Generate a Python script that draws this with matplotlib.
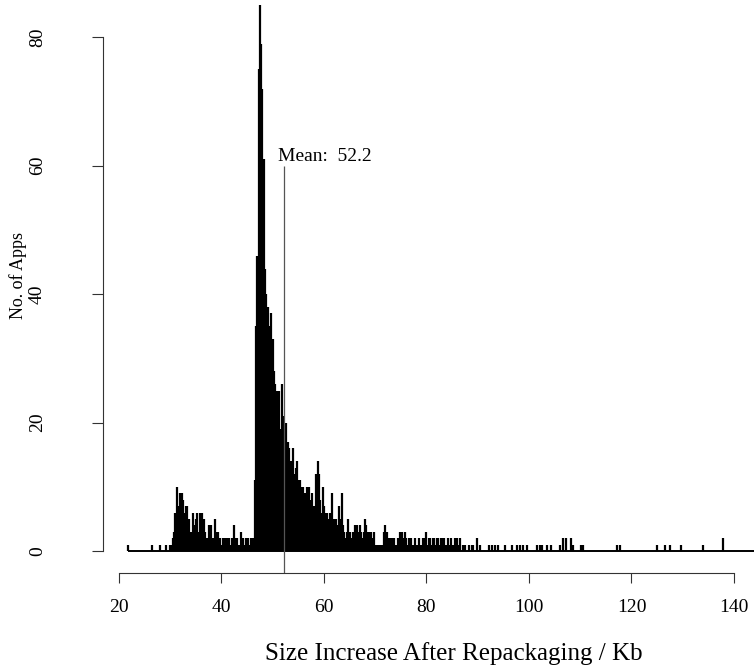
import matplotlib
matplotlib.use("Agg")
import matplotlib.pyplot as plt
import numpy as np

plt.rcParams['font.family'] = ['Liberation Serif', 'DejaVu Serif']

# counts per size, dense part on a 0.25 Kb grid starting at 30.0 Kb
dense_start = 30.0
dense_step = 0.25
dense_counts = [
    1, 1, 2, 3,      # 30
    6, 10, 7, 6,     # 31
    9, 9, 8, 6,      # 32
    7, 7, 4, 5,      # 33
    3, 2, 6, 4,      # 34
    5, 6, 3, 6,      # 35
    4, 6, 5, 3,      # 36
    2, 2, 4, 4,      # 37
    4, 2, 2, 5,      # 38
    3, 3, 2, 2,      # 39
    1, 2, 1, 2,      # 40
    2, 1, 2, 1,      # 41
    2, 1, 4, 2,      # 42
    2, 1, 1, 3,      # 43
    2, 2, 1, 2,      # 44
    2, 2, 1, 2,      # 45
    2, 2, 11, 35,    # 46
    46, 75, 85, 79,  # 47
    72, 61, 44, 40,  # 48
    38, 31, 35, 37,  # 49
    33, 28, 26, 25,  # 50
    22, 25, 19, 26,  # 51
    21, 18, 20, 16,  # 52
    17, 16, 14, 13,  # 53
    16, 12, 13, 14,  # 54
    11, 11, 10, 9,   # 55
    10, 9, 8, 10,    # 56
    10, 6, 8, 9,     # 57
    7, 6, 12, 14,    # 58
    12, 8, 6, 10,    # 59
    7, 6, 6, 5,      # 60
    4, 6, 9, 4,      # 61
    5, 5, 4, 4,      # 62
    7, 5, 9, 4,      # 63
    3, 2, 3, 5,      # 64
    3, 2, 1, 3,      # 65
    4, 4, 4, 3,      # 66
    4, 3, 2, 3,      # 67
    5, 4, 3, 2,      # 68
    3, 3, 2, 3,      # 69
    1, 1, 1, 1,      # 70
    1, 1, 1, 3,      # 71
    4, 3, 2, 2,      # 72
    2, 1, 2, 2,      # 73
    1, 1, 2, 3,      # 74
    3, 3, 2, 3,      # 75
    2, 1, 2, 1,      # 76
    2, 1, 1, 2,      # 77
    1, 1, 2, 1,      # 78
    1, 2, 1, 2,      # 79
    3, 1, 2, 2,      # 80
    1, 2, 2, 1,      # 81
    2, 2, 1, 2,      # 82
    1, 2, 2, 1,      # 83
    1, 2, 1, 2,      # 84
    1, 1, 2, 1,      # 85
    2, 1, 2,         # 86
]

# isolated sizes outside the dense part
sparse_sizes = [21.8, 26.4, 28.0, 29.1,
                87.2, 87.5, 88.2, 88.8, 89.0, 89.8, 90.4, 92.1, 92.7, 93.4,
                93.9, 95.3, 96.6, 97.6, 98.2, 98.9, 99.6, 101.6, 102.2, 102.5,
                103.5, 104.2, 106.0, 106.7, 107.2, 108.1, 108.6, 110.1, 110.6,
                117.1, 117.8, 124.9, 126.6, 127.5, 129.6, 134.0, 137.9]
sparse_counts = [1, 1, 1, 1,
                 1, 1, 1, 1, 1, 2, 1, 1, 1, 1,
                 1, 1, 1, 1, 1, 1, 1, 1, 1, 1,
                 1, 1, 1, 2, 2, 2, 1, 1, 1,
                 1, 1, 1, 1, 1, 1, 1, 2]

mean_kb = 52.2
mean_line_top = 60

dense_sizes = dense_start + dense_step * np.arange(len(dense_counts))
sizes = np.concatenate([dense_sizes, sparse_sizes])
counts = np.concatenate([dense_counts, sparse_counts])

fig = plt.figure(figsize=(7.54, 6.66), dpi=100)
ax = fig.add_axes([103 / 754, 93 / 666, 680.7 / 754, 589.7 / 666])

ax.vlines(sizes, 0, counts, color='black', lw=1.6)
ax.hlines(0, sizes.min(), 160, color='black', lw=1.4)

ax.set_xlim(16.88, 149.7)
ax.set_ylim(-3.4, 88.4)

ax.vlines(mean_kb, -3.4, mean_line_top, color='#555555', lw=0.9)
ax.text(mean_kb - 1.2, mean_line_top + 0.8, f"Mean:  {mean_kb}", fontsize=14,
        ha='left', va='baseline')

for s in ['top', 'right']:
    ax.spines[s].set_visible(False)
ax.spines['left'].set_bounds(0, 80)
ax.spines['bottom'].set_bounds(20, 140)
ax.spines['left'].set_color('#333333')
ax.spines['bottom'].set_color('#333333')

ax.set_xticks([20, 40, 60, 80, 100, 120, 140])
ax.set_yticks([0, 20, 40, 60, 80])
ax.tick_params(axis='x', length=7.5, width=0.8, color='#333333', labelsize=14, pad=11)
ax.tick_params(axis='y', length=8, width=0.8, color='#333333', labelsize=14, pad=33)
for lab in ax.get_yticklabels():
    lab.set_rotation(90)
    lab.set_va('center')

fig.text(18 / 754, 1 - 275 / 666, 'No. of Apps', rotation=90, ha='center',
         va='center', fontsize=13)
fig.text(454 / 754, 1 - 654 / 666, 'Size Increase After Repackaging / Kb',
         ha='center', va='center', fontsize=18)

fig.savefig('out.png', dpi=100)
